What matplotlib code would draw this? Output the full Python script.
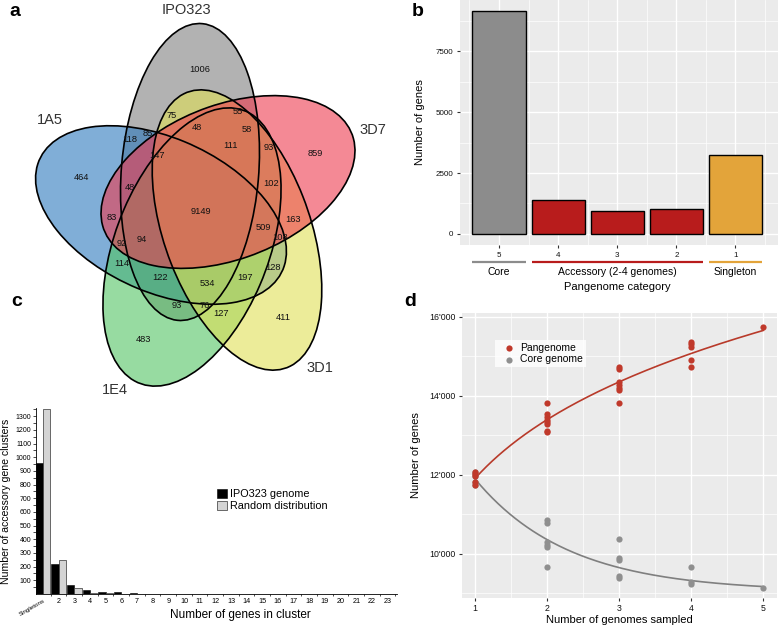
import matplotlib
matplotlib.use("Agg")
import matplotlib.pyplot as plt
import matplotlib.ticker as mtick
import numpy as np
from matplotlib.patches import Ellipse
from matplotlib.transforms import Affine2D, blended_transform_factory

plt.rcParams["font.family"] = ["Liberation Sans", "DejaVu Sans"]

FIG_W, FIG_H = 778, 628

# panel a: five-way Venn of gene families (drawing order = set order)
set_names = ["IPO323", "1A5", "1E4", "3D1", "3D7"]
set_colors = ["#7f7f7f", "#2b78bd", "#52c463", "#e0e055", "#ee3b4f"]
region_counts = [1006, 464, 483, 411, 859,
                 75, 55, 48, 58, 85, 118, 111, 93, 147, 48, 102,
                 9149, 83, 163, 509, 94, 92, 108, 114, 122, 534, 197, 128,
                 93, 76, 127]

# panel b: pangenome categories
category_labels = ["5", "4", "3", "2", "1"]
category_genes = [9149, 1395, 945, 1038, 3223]
group_names = ["Core", "Accessory (2-4 genomes)", "Singleton"]
group_members = [["5"], ["4", "3", "2"], ["1"]]
group_colors = ["#8c8c8c", "#b81c1c", "#e3a43a"]

# panel c: accessory gene clusters in the IPO323 genome
cluster_size_labels = ["Singletons", "2", "3", "4", "5", "6", "7", "8", "9", "10",
                       "11", "12", "13", "14", "15", "16", "17", "18", "19", "20",
                       "21", "22", "23"]
ipo323_clusters = [955, 222, 67, 29, 17, 12, 10, 3, 3, 3, 0, 0, 0, 0, 3,
                   0, 0, 0, 0, 0, 0, 0, 3]
random_clusters = [1350, 246, 43, 9, 6, 3, 3, 3, 3, 3, 0, 0, 0, 0, 0,
                   0, 0, 0, 0, 0, 0, 0, 0]

# panel d: rarefaction of pangenome and core genome
genomes_sampled = [1, 2, 3, 4, 5]
pangenome_sizes = [
    [12080, 12030, 11980, 11820, 11750],
    [13815, 13540, 13470, 13400, 13340, 13290, 13110, 13080],
    [14743, 14676, 14363, 14279, 14211, 14152, 13831],
    [15359, 15308, 15249, 14911, 14743],
    [15755],
]
core_sizes = [
    [12080, 12030, 11980, 11820, 11750],
    [10861, 10777, 10311, 10228, 10170, 9678],
    [10380, 9899, 9840, 9434, 9392],
    [9662, 9283, 9224],
    [9139],
]


def px_rect(x0, y0, x1, y1):
    return [x0 / FIG_W, 1 - y1 / FIG_H, (x1 - x0) / FIG_W, (y1 - y0) / FIG_H]


fig = plt.figure(figsize=(FIG_W / 100, FIG_H / 100), dpi=100)

# ---------------- a: Venn ----------------
axa = fig.add_axes(px_rect(0, 0, 400, 400))
axa.set_xlim(0, 400)
axa.set_ylim(400, 0)
axa.axis("off")

venn_a, venn_squeeze = 149, 0.88
ellipse_minor = [78, 78, 86, 82, 78]
ellipse_centers = [(190, 172), (161, 215), (192, 247), (237, 230), (228, 182)]
ellipse_angles = [84.4, 160, 244, 294, 17]
name_pos = [(186, 10), (50, 120), (115, 390), (320, 368), (373, 130)]
region_pos = [(200, 70), (81, 178), (143, 339), (283, 317), (315, 153),
              (172, 115), (238, 112), (197, 127), (247, 130), (148, 133),
              (130, 140), (231, 146), (269, 147), (157, 156), (130, 187),
              (271, 183), (201, 211), (112, 217), (293, 219), (263, 228),
              (142, 240), (122, 243), (280, 237), (122, 263), (160, 277),
              (207, 283), (245, 278), (273, 268), (177, 305), (205, 305),
              (221, 313)]

for (cx, cy), ang, bmin, color in zip(ellipse_centers, ellipse_angles,
                                      ellipse_minor, set_colors):
    tr = Affine2D().scale(venn_squeeze, -1).translate(cx, cy) + axa.transData
    axa.add_patch(Ellipse((0, 0), 2 * venn_a, 2 * bmin, angle=ang,
                          facecolor=color, alpha=0.6, edgecolor="none",
                          transform=tr))
for (cx, cy), ang, bmin in zip(ellipse_centers, ellipse_angles, ellipse_minor):
    tr = Affine2D().scale(venn_squeeze, -1).translate(cx, cy) + axa.transData
    axa.add_patch(Ellipse((0, 0), 2 * venn_a, 2 * bmin, angle=ang,
                          facecolor="none", edgecolor="black", linewidth=1.2,
                          transform=tr))

for name, (x, y) in zip(set_names, name_pos):
    axa.text(x, y, name, ha="center", va="center", fontsize=10.5, color="#333333")
for count, (x, y) in zip(region_counts, region_pos):
    axa.text(x, y, str(count), ha="center", va="center", fontsize=6.7, color="#111111")

# ---------------- b: pangenome categories ----------------
axb = fig.add_axes(px_rect(460, 0, 778, 245))
xb = np.arange(1, len(category_labels) + 1)
bar_fill = []
for lab in category_labels:
    for members, col in zip(group_members, group_colors):
        if lab in members:
            bar_fill.append(col)
axb.bar(xb, category_genes, width=0.9, color=bar_fill, edgecolor="black",
        linewidth=1.0, zorder=3)
axb.set_xlim(0.34, 5.72)
axb.set_ylim(-457, 9606)
axb.set_facecolor("#EBEBEB")
axb.set_xticks(xb)
axb.set_xticklabels(category_labels)
axb.set_xticks(np.arange(0.5, 6, 1), minor=True)
axb.set_yticks([0, 2500, 5000, 7500])
axb.set_yticks([1250, 3750, 6250, 8750], minor=True)
axb.grid(which="major", color="white", linewidth=1.0)
axb.grid(which="minor", color="white", linewidth=0.5)
axb.set_axisbelow(True)
for s in axb.spines.values():
    s.set_visible(False)
axb.tick_params(which="minor", length=0)
axb.tick_params(which="major", length=2.5, color="#333333", labelsize=5.8,
                labelcolor="#111111", pad=2.5)
axb.set_ylabel("Number of genes", fontsize=8)
axb.yaxis.set_label_coords(-0.11, 0.5)
axb.set_xlabel("Pangenome category", fontsize=8)
axb.xaxis.set_label_coords(0.494, -0.15)
blend_b = blended_transform_factory(axb.transData, axb.transAxes)
for name, members, col in zip(group_names, group_members, group_colors):
    pos = [category_labels.index(m) + 1 for m in members]
    x0, x1 = min(pos) - 0.45, max(pos) + 0.45
    axb.plot([x0, x1], [-0.069, -0.069], color=col, linewidth=1.6,
             transform=blend_b, clip_on=False, solid_capstyle="butt")
    axb.text((x0 + x1) / 2, -0.11, name, transform=blend_b, ha="center",
             va="center", fontsize=7.5)

# ---------------- c: cluster sizes ----------------
axc = fig.add_axes(px_rect(36, 408, 397, 594))
xc = np.arange(1, len(cluster_size_labels) + 1)
bw = 0.47
axc.bar(xc - bw / 2, ipo323_clusters, width=bw, color="black",
        edgecolor="black", linewidth=0.4, label="IPO323 genome")
axc.bar(xc + bw / 2, random_clusters, width=bw, color="#d4d4d4",
        edgecolor="#333333", linewidth=0.5, label="Random distribution")
axc.set_xlim(0.553, 23.6)
axc.set_ylim(0, 1360)
axc.set_yticks(np.arange(100, 1400, 100))
axc.set_yticks(np.arange(50, 1360, 100), minor=True)
axc.set_xticks(xc)
axc.set_xticklabels(cluster_size_labels)
axc.set_xticks(xc + 0.5, minor=True)
for s in ["top", "right"]:
    axc.spines[s].set_visible(False)
for s in ["left", "bottom"]:
    axc.spines[s].set_linewidth(0.6)
axc.tick_params(axis="y", which="major", labelsize=5, length=2, width=0.5, pad=1.5)
axc.tick_params(axis="y", which="minor", length=2, width=0.5)
axc.tick_params(axis="x", which="major", labelsize=5.2, length=0, pad=3)
axc.tick_params(axis="x", which="minor", length=1.5, width=0.5)
first = axc.get_xticklabels()[0]
first.set_rotation(30)
first.set_ha("right")
first.set_rotation_mode("anchor")
first.set_fontsize(4.5)
axc.set_ylabel("Number of accessory gene clusters", fontsize=7.6)
axc.yaxis.set_label_coords(-0.068, 0.5)
axc.set_xlabel("Number of genes in cluster", fontsize=8.5)
axc.xaxis.set_label_coords(0.565, -0.08)
axc.legend(loc="center left", bbox_to_anchor=(0.49, 0.505), frameon=False,
           fontsize=7.8, handlelength=0.9, handleheight=0.9,
           handletextpad=0.3, labelspacing=0.15, borderaxespad=0)

# ---------------- d: rarefaction ----------------
axd = fig.add_axes(px_rect(462, 313, 777, 598))
pan_red, core_grey = "#c0392b", "#8f8f8f"

px_all = np.concatenate([[x] * len(v) for x, v in zip(genomes_sampled, pangenome_sizes)])
py_all = np.concatenate(pangenome_sizes)
cx_all = np.concatenate([[x] * len(v) for x, v in zip(genomes_sampled, core_sizes)])
cy_all = np.concatenate(core_sizes)

# power law fit for the pangenome
slope, icpt = np.polyfit(np.log(px_all), np.log(py_all), 1)
# exponential decay fit for the core genome
best = None
for c in np.arange(7000, cy_all.min() - 1, 5):
    k, la = np.polyfit(cx_all, np.log(cy_all - c), 1)
    sse = np.sum((c + np.exp(la + k * cx_all) - cy_all) ** 2)
    if best is None or sse < best[0]:
        best = (sse, c, k, la)
_, c_fit, k_fit, la_fit = best
xs = np.linspace(1, 5, 200)

axd.plot(xs, c_fit + np.exp(la_fit + k_fit * xs), color="#7f7f7f", linewidth=1.2, zorder=3)
axd.scatter(cx_all, cy_all, s=20, color=core_grey, zorder=4, linewidths=0,
            label="Core genome")
axd.plot(xs, np.exp(icpt) * xs ** slope, color="#b83a2a", linewidth=1.2, zorder=3)
axd.scatter(px_all, py_all, s=20, color=pan_red, zorder=5, linewidths=0,
            label="Pangenome")
axd.set_xlim(0.82, 5.19)
axd.set_ylim(8880, 16100)
axd.set_facecolor("#EBEBEB")
axd.set_xticks(genomes_sampled)
axd.set_xticks(np.arange(1.5, 5, 1), minor=True)
axd.set_yticks([10000, 12000, 14000, 16000])
axd.set_yticks([9000, 11000, 13000, 15000], minor=True)
axd.yaxis.set_major_formatter(
    mtick.FuncFormatter(lambda v, p: f"{int(v):,}".replace(",", "'")))
axd.grid(which="major", color="white", linewidth=1.0)
axd.grid(which="minor", color="white", linewidth=0.5)
axd.set_axisbelow(True)
for s in axd.spines.values():
    s.set_visible(False)
axd.tick_params(which="minor", length=0)
axd.tick_params(which="major", length=2.5, color="#333333", labelsize=6.3,
                labelcolor="#111111", pad=2)
axd.set_ylabel("Number of genes", fontsize=8)
axd.yaxis.set_label_coords(-0.13, 0.5)
axd.set_xlabel("Number of genomes sampled", fontsize=8)
axd.xaxis.set_label_coords(0.5, -0.06)
handles, labels = axd.get_legend_handles_labels()
leg = axd.legend(handles[::-1], labels[::-1], loc="upper left",
                 bbox_to_anchor=(0.105, 0.905), frameon=True, fancybox=False,
                 fontsize=7.5, handletextpad=0.1, labelspacing=0.1,
                 borderpad=0.3, borderaxespad=0, scatterpoints=1)
leg.get_frame().set_facecolor("white")
leg.get_frame().set_edgecolor("none")

# panel letters
for letter, (x, y) in zip("abcd", [(15, 12), (418, 12), (17, 302), (410, 302)]):
    fig.text(x / FIG_W, 1 - y / FIG_H, letter, fontsize=14, fontweight="bold",
             ha="center", va="center")

fig.savefig("out.png", dpi=100)
